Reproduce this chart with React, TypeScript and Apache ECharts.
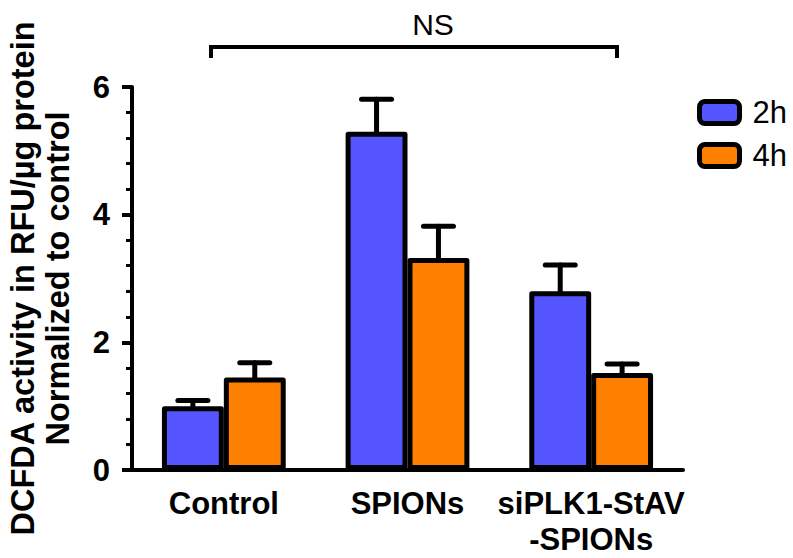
import React, { useEffect, useRef } from "react";
import * as echarts from "echarts";

const categories = ["Control", "SPIONs", "siPLK1-StAV\n-SPIONs"];
const series2h = [1.0, 5.3, 2.8];
const series4h = [1.45, 3.32, 1.52];
const err2h = [0.09, 0.51, 0.41];
const err4h = [0.23, 0.5, 0.14];
const yTicks = [0, 2, 4, 6];
const seriesNames = ["2h", "4h"];
const sigLabel = "NS";

const FONT = "'Liberation Sans', Arial, Helvetica, sans-serif";
const BAR_FRAC = 0.337;

function makeErr(values: number[], errs: number[], side: number, name: string) {
  return {
    type: "custom",
    name: name + "-err",
    z: 1,
    silent: true,
    data: values.map((v, i) => [i, v, errs[i]]),
    renderItem: (params: any, api: any) => {
      const idx = api.value(0);
      const v = api.value(1);
      const e = api.value(2);
      const base = api.coord([idx, v]);
      const top = api.coord([idx, v + e]);
      const band = api.size([1, 0])[0];
      const w = band * BAR_FRAC;
      const cx = base[0] + (side * w) / 2;
      const half = 15;
      const style = { stroke: "#000", lineWidth: 5, lineCap: "round" };
      return {
        type: "group",
        children: [
          { type: "line", shape: { x1: cx, y1: base[1], x2: cx, y2: top[1] }, style },
          { type: "line", shape: { x1: cx - half, y1: top[1], x2: cx + half, y2: top[1] }, style },
        ],
      };
    },
  };
}

export default function App() {
  const ref = useRef<HTMLDivElement>(null);
  useEffect(() => {
    if (!ref.current) return;
    const chart = echarts.init(ref.current, undefined, { renderer: "svg" });
    const barStyle = (color: string) => ({
      color,
      borderColor: "#000",
      borderWidth: 5,
      borderJoin: "round",
    });
    chart.setOption({
      animation: false,
      textStyle: { fontFamily: FONT },
      grid: { left: 132, right: 110, top: 87, bottom: 88, containLabel: false, outerBoundsMode: "none" },
      legend: {
        orient: "vertical",
        left: 692,
        top: 92,
        itemWidth: 40,
        itemHeight: 22,
        itemGap: 12,
        data: seriesNames,
        itemStyle: { borderWidth: 5, borderColor: "#000", borderJoin: "miter" },
        textStyle: { fontSize: 31, color: "#000", fontFamily: FONT, padding: [0, 0, 0, 8] },
      },
      xAxis: {
        type: "category",
        data: categories,
        axisLine: { lineStyle: { color: "#000", width: 4 } },
        axisTick: { alignWithLabel: true, length: 8, lineStyle: { color: "#000", width: 4 } },
        axisLabel: {
          color: "#000",
          fontSize: 31,
          fontWeight: "bold",
          fontFamily: FONT,
          margin: 15,
          lineHeight: 36,
          interval: 0,
          hideOverlap: false,
        },
      },
      yAxis: {
        type: "value",
        min: 0,
        max: 6,
        interval: 2,
        name: "DCFDA activity in RFU/µg protein\nNormalized to control",
        nameLocation: "middle",
        nameGap: 57,
        nameTextStyle: {
          color: "#000",
          fontSize: 32.5,
          fontWeight: "bold",
          fontFamily: FONT,
          lineHeight: 35,
        },
        axisLine: { show: true, lineStyle: { color: "#000", width: 4 } },
        axisTick: { show: true, length: 10, lineStyle: { color: "#000", width: 4 } },
        minorTick: { show: true, splitNumber: 5, length: 6, lineStyle: { color: "#000", width: 3 } },
        splitLine: { show: false },
        axisLabel: {
          color: "#000",
          fontSize: 31,
          fontWeight: "bold",
          fontFamily: FONT,
          margin: 22,
          formatter: (v: number) => (yTicks.includes(v) ? String(v) : ""),
        },
      },
      series: [
        {
          type: "bar",
          name: seriesNames[0],
          data: series2h,
          barWidth: "33.7%",
          barGap: "0%",
          z: 2,
          itemStyle: barStyle("#5555FF"),
        },
        {
          type: "bar",
          name: seriesNames[1],
          data: series4h,
          barWidth: "33.7%",
          barGap: "0%",
          z: 2,
          itemStyle: barStyle("#FF8000"),
        },
        makeErr(series2h, err2h, -1, seriesNames[0]),
        makeErr(series4h, err4h, 1, seriesNames[1]),
      ],
      graphic: [
        {
          type: "polyline",
          shape: { points: [[211, 58], [211, 47], [617, 47], [617, 58]] },
          style: { stroke: "#000", lineWidth: 4, fill: "none" },
        },
        {
          type: "text",
          x: 433,
          y: 24,
          style: {
            text: sigLabel,
            fontSize: 30,
            fontFamily: FONT,
            fill: "#000",
            align: "center",
            verticalAlign: "middle",
          },
        },
      ],
    });
    return () => chart.dispose();
  }, []);
  return <div ref={ref} style={{ width: 793, height: 558, position: "absolute", left: 0, top: 0 }} />;
}
